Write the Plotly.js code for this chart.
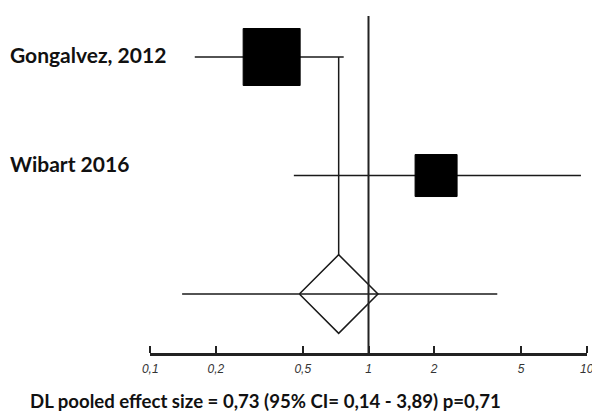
<!DOCTYPE html>
<html>
<head>
<meta charset="utf-8">
<script src="https://cdn.plot.ly/plotly-3.0.1.min.js"></script>
<style>html,body{margin:0;padding:0;background:#fff;}#chart{width:592px;height:418px;}</style>
</head>
<body>
<div id="chart"></div>
<script>
// Data
var studies = ["Gongalvez, 2012", "Wibart 2016"];
var effect = [0.36, 2.04];
var ciLow = [0.16, 0.455];
var ciHigh = [0.77, 9.4];
var weightSize = [57, 42];
var pooledEffect = 0.73;
var pooledLow = 0.14;
var pooledHigh = 3.89;
var pooledP = "0,71";
var tickVals = [0.1, 0.2, 0.5, 1, 2, 5, 10];
var tickText = ["0,1", "0,2", "0,5", "1", "2", "5", "10"];

var pooledRow = studies.length;
var dHalfW = 0.18;   // diamond half width (decades)
var dHalfH = 0.332;  // diamond half height (rows)
var ink = "#1a1a1a";
var traces = [];

studies.forEach(function (s, i) {
  traces.push({
    type: "scatter", mode: "lines",
    x: [ciLow[i], ciHigh[i]], y: [i, i],
    line: {color: ink, width: 1.5}, hoverinfo: "skip", showlegend: false
  });
});
traces.push({
  type: "scatter", mode: "lines",
  x: [pooledLow, pooledHigh], y: [pooledRow, pooledRow],
  line: {color: ink, width: 1.5}, hoverinfo: "skip", showlegend: false
});
// connector (drawn on the overlaid tick axis, same scale)
traces.push({
  type: "scatter", mode: "lines", xaxis: "x2", yaxis: "y",
  x: [pooledEffect, pooledEffect], y: [0, pooledRow - dHalfH],
  line: {color: ink, width: 1.5}, hoverinfo: "skip", showlegend: false
});
traces.push({
  type: "scatter", mode: "markers",
  x: effect, y: studies.map(function (s, i) { return i; }),
  marker: {symbol: "square", size: weightSize, opacity: 1, color: "#000", line: {width: 1, color: "#000"}},
  hoverinfo: "skip", showlegend: false
});
var lo = pooledEffect / Math.pow(10, dHalfW), hi = pooledEffect * Math.pow(10, dHalfW);
traces.push({
  type: "scatter", mode: "lines",
  x: [lo, pooledEffect, hi, pooledEffect, lo],
  y: [pooledRow, pooledRow - dHalfH, pooledRow, pooledRow + dHalfH, pooledRow],
  line: {color: ink, width: 1.5}, hoverinfo: "skip", showlegend: false
});

var labelFont = {family: "Lato, 'Liberation Sans', sans-serif", size: 21, color: "#111"};
var annotations = [
  {xref: "paper", yref: "y", x: -0.325, y: 0, xanchor: "left", yanchor: "middle", yshift: 3,
   text: "<b>" + studies[0] + "</b>", showarrow: false, font: labelFont},
  {xref: "paper", yref: "y", x: -0.325, y: 1, xanchor: "left", yanchor: "middle", yshift: 12,
   text: "<b>" + studies[1] + "</b>", showarrow: false, font: labelFont},
  {xref: "paper", yref: "paper", x: 0.264, y: -0.137, xanchor: "center", yanchor: "middle",
   text: "<b>DL pooled effect size = " + String(pooledEffect).replace(".", ",") +
         " (95% CI= " + String(pooledLow).replace(".", ",") + " - " + String(pooledHigh).replace(".", ",") +
         ") p=" + pooledP + "</b>",
   showarrow: false, font: {family: "Lato, 'Liberation Sans', sans-serif", size: 18.6, color: "#111"}}
];

var xRange = [-1.001, 1.001];
var layout = {
  width: 592, height: 418,
  margin: {l: 150, r: 5, t: 10, b: 64, pad: 0},
  paper_bgcolor: "#fff", plot_bgcolor: "#fff",
  showlegend: false,
  xaxis: {
    type: "log", range: xRange, showgrid: false, zeroline: false,
    showline: true, linecolor: "#222", linewidth: 2,
    ticks: "", ticklen: 0,
    tickmode: "array", tickvals: tickVals, ticktext: tickText,
    ticklabeloverflow: "allow", ticklabelstandoff: 3,
    tickfont: {family: "'Liberation Sans', Arial, sans-serif", size: 12, color: "#333", style: "italic"},
    fixedrange: true
  },
  xaxis2: {
    type: "log", range: xRange, overlaying: "x", side: "top", anchor: "free", position: 0,
    showgrid: false, zeroline: false, showline: true, linecolor: "#222", linewidth: 2,
    ticks: "outside", ticklen: 7, tickwidth: 2, tickcolor: "#222",
    tickmode: "array", tickvals: tickVals, showticklabels: false,
    fixedrange: true
  },
  yaxis: {
    range: [2.506, -0.3966], showgrid: false, zeroline: false, showline: false,
    showticklabels: false, ticks: "", fixedrange: true
  },
  shapes: [
    {type: "line", xref: "x", yref: "y", x0: 1, x1: 1, y0: -0.346, y1: 2.506,
     line: {color: "#222", width: 2}}
  ],
  annotations: annotations
};

Plotly.newPlot("chart", traces, layout, {displayModeBar: false, staticPlot: true});
</script>
</body>
</html>
